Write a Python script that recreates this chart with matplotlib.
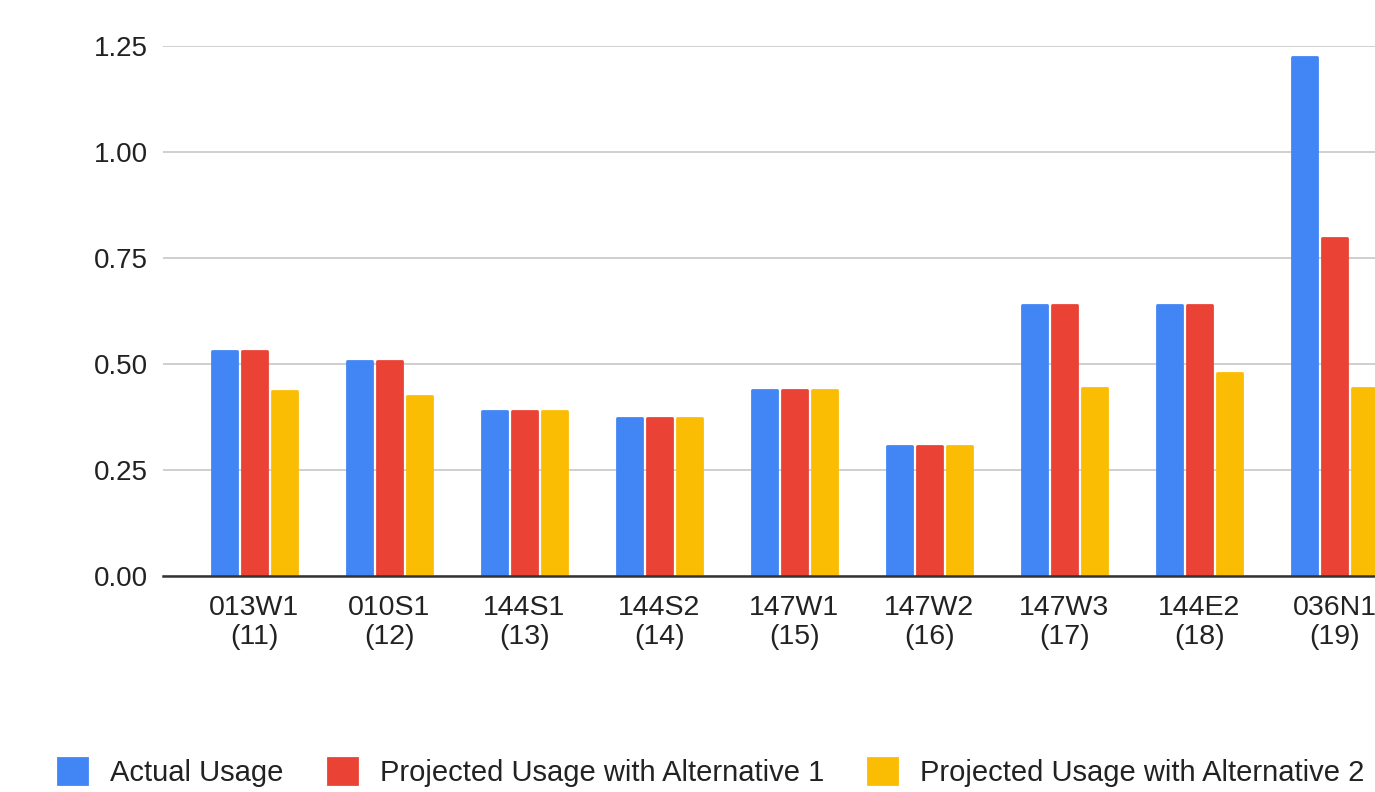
import matplotlib.pyplot as plt
import numpy as np

plt.rcParams['font.family'] = ['Liberation Sans', 'DejaVu Sans']

# data
sites = ['013W1\n(11)', '010S1\n(12)', '144S1\n(13)', '144S2\n(14)', '147W1\n(15)',
         '147W2\n(16)', '147W3\n(17)', '144E2\n(18)', '036N1\n(19)']
actual = [0.531, 0.507, 0.389, 0.373, 0.439, 0.307, 0.639, 0.639, 1.224]
alt1 = [0.531, 0.507, 0.389, 0.373, 0.439, 0.307, 0.639, 0.639, 0.797]
alt2 = [0.436, 0.425, 0.389, 0.373, 0.439, 0.307, 0.443, 0.479, 0.443]
series_names = ['Actual Usage', 'Projected Usage with Alternative 1',
                'Projected Usage with Alternative 2']
colors = ['#4285f4', '#ea4335', '#fbbc04']

fig = plt.figure(figsize=(13.75, 7.92), dpi=100)
ax = fig.add_axes([163 / 1375, 216 / 792, 1212 / 1375, 530 / 792])

x = np.arange(len(sites))
w = 0.185
step = 0.222
for i, (vals, name, c) in enumerate(zip([actual, alt1, alt2], series_names, colors)):
    ax.bar(x + (i - 1) * step, vals, width=w, color=c, edgecolor=c,
           linewidth=2, joinstyle='round', label=name, zorder=3)

ax.set_xlim(-0.674, 8.30)
ax.set_ylim(0, 1.25)
ax.set_yticks([0, 0.25, 0.5, 0.75, 1.0, 1.25])
ax.set_yticklabels(['0.00', '0.25', '0.50', '0.75', '1.00', '1.25'])
ax.set_xticks(x)
ax.set_xticklabels(sites, linespacing=1.15)
ax.tick_params(axis='y', length=0, pad=11, labelsize=20, labelcolor='#222222')
ax.tick_params(axis='x', length=0, pad=14, labelsize=20.5, labelcolor='#222222')
ax.grid(axis='y', color='#cccccc', linewidth=1.3, zorder=0)
for s in ['top', 'right', 'left']:
    ax.spines[s].set_visible(False)
ax.spines['bottom'].set_color('#333333')
ax.spines['bottom'].set_linewidth(1.8)
ax.spines['bottom'].set_zorder(4)

leg = fig.legend(loc='center left', bbox_to_anchor=(0.023, 0.025), ncol=3, frameon=False,
                 fontsize=21, handlelength=1.0, handleheight=1.0, handletextpad=0.8,
                 columnspacing=1.5)
for t in leg.get_texts():
    t.set_color('#222222')

plt.savefig('out.png', dpi=100)
